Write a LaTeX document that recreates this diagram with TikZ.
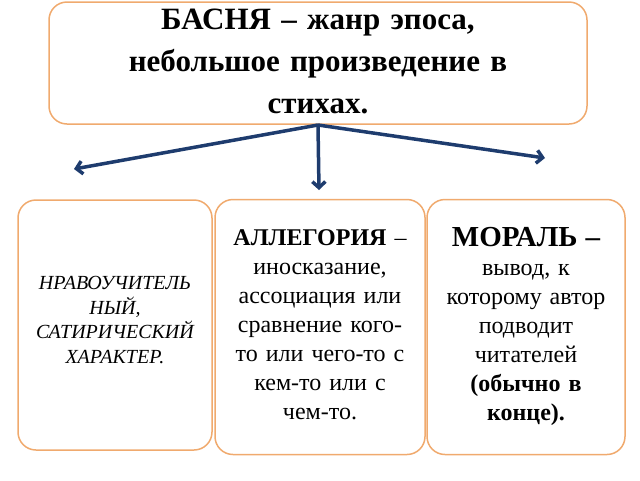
\documentclass[tikz,border=0pt]{standalone}
\usepackage{fontspec}
\setmainfont{Liberation Serif}
\usetikzlibrary{arrows.meta}
\definecolor{frame}{RGB}{240,170,110}
\definecolor{arrowblue}{RGB}{30,60,110}
\tikzset{box/.style={draw=frame, line width=1.5pt, rounded corners=18pt, fill=white},
         link/.style={draw=arrowblue, line width=3.5pt, -{Straight Barb[length=6pt,width=13pt]}}}
\begin{document}
\begin{tikzpicture}[x=1pt, y=-1pt]
  \useasboundingbox (0,0) rectangle (640,480);
  % boxes
  \node[box, minimum width=538pt, minimum height=122pt] (top) at (318,63) {};
  \node[box, minimum width=194pt, minimum height=250pt] (left) at (115,325) {};
  \node[box, minimum width=210pt, minimum height=255pt] (mid) at (320,327) {};
  \node[box, minimum width=198pt, minimum height=255pt] (right) at (526,327) {};
  % texts
  \node[text width=520pt, align=center, font=\bfseries\fontsize{31}{42}\selectfont] (title) at (318,61)
    {БАСНЯ – жанр эпоса,\\ небольшое произведение в\\ стихах.};
  \node[text width=194pt, align=center, font=\itshape\fontsize{20}{24.5}\selectfont] (ltext) at (115,320)
    {НРАВОУЧИТЕЛЬ\\НЫЙ,\\ САТИРИЧЕСКИЙ\\ ХАРАКТЕР.};
  \node[text width=210pt, align=center, anchor=north, font=\fontsize{24}{29}\selectfont] (mtext) at (320,226)
    {\textbf{АЛЛЕГОРИЯ} –\\ иносказание,\\ ассоциация или\\ сравнение кого-\\то или чего-то с\\ кем-то или с\\ чем-то.};
  \node[text width=198pt, align=center, anchor=north, font=\fontsize{24}{29}\selectfont] (rtext) at (526,224)
    {{\bfseries\fontsize{29}{29}\selectfont МОРАЛЬ –}\\ вывод, к\\ которому автор\\ подводит\\ читателей\\ \textbf{(обычно в}\\ \textbf{конце).}};
  % arrows
  \coordinate (src) at (318,125);
  \coordinate (toleft) at (74,169);
  \coordinate (tomid) at (319,190);
  \coordinate (toright) at (545,158);
  \draw[link] (src) -- (toleft);
  \draw[link] (src) -- (tomid);
  \draw[link] (src) -- (toright);
\end{tikzpicture}
\end{document}
